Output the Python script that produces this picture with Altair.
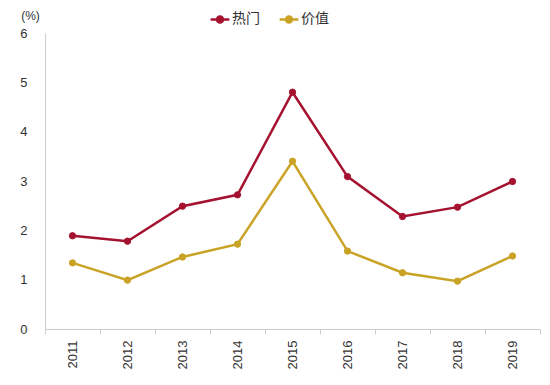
import altair as alt
import pandas as pd

years = ["2011", "2012", "2013", "2014", "2015", "2016", "2017", "2018", "2019"]
hot = [1.89, 1.78, 2.49, 2.72, 4.80, 3.09, 2.28, 2.47, 2.99]
value = [1.34, 0.99, 1.46, 1.72, 3.40, 1.58, 1.14, 0.97, 1.48]
series = ["热门", "价值"]
colors = ["#A5122F", "#C9A326"]

rows = []
for y, h, v in zip(years, hot, value):
    rows.append({"year": y, "series": series[0], "val": h})
    rows.append({"year": y, "series": series[1], "val": v})
df = pd.DataFrame(rows)

sym = "M-1.4,0 L1.4,0 M-0.45,0 A0.45,0.45 0 1,1 0.45,0 A0.45,0.45 0 1,1 -0.45,0 Z"

x = alt.X("year:N", sort=years, title=None,
          scale=alt.Scale(paddingInner=0, paddingOuter=0),
          axis=alt.Axis(labelAngle=-90, tickBand="extent", labelFont="Liberation Sans",
                        labelFontSize=13, labelColor="#333333", domainColor="#cccccc",
                        tickColor="#cccccc", tickSize=5, labelPadding=6,
                        ticks=True))
y = alt.Y("val:Q", title="(%)",
          scale=alt.Scale(domain=[0, 6], nice=False),
          axis=alt.Axis(values=[0, 1, 2, 3, 4, 5, 6], grid=False, ticks=False,
                        domainColor="#cccccc", labelFont="Liberation Sans",
                        labelFontSize=13, labelColor="#333333", labelPadding=18,
                        titleAngle=0, titleX=-15, titleY=-18, titleAlign="center",
                        titleBaseline="middle", titleFont="Liberation Sans",
                        titleFontSize=12, titleFontWeight="normal", titleColor="#333333"))

leg = alt.Legend(title=None, orient="none", direction="horizontal",
                 legendX=167, legendY=-22, symbolType=sym,
                 symbolSize=180, symbolStrokeWidth=2.5,
                 labelFont="Noto Sans CJK SC", labelFontSize=14,
                 labelColor="#333333", columnPadding=14, labelOffset=4)
scale = alt.Scale(domain=series, range=colors)

line = alt.Chart(df).mark_line(strokeWidth=2.5).encode(
    x=x, y=y, stroke=alt.Stroke("series:N", sort=series, scale=scale, legend=leg))
pts = alt.Chart(df).mark_point(filled=True, size=40, opacity=1, strokeWidth=1).encode(
    x=x, y=y,
    fill=alt.Fill("series:N", sort=series, scale=scale, legend=leg),
    stroke=alt.Stroke("series:N", sort=series, scale=scale, legend=leg))

chart = alt.layer(line, pts).properties(
    width=495, height=296,
    autosize=alt.AutoSizeParams(type="none"),
    padding={"left": 37, "top": 25, "right": 2, "bottom": 50},
).configure(background="white").configure_view(stroke=None)

chart.save("out.html", embed_options={"renderer": "svg", "actions": False})
